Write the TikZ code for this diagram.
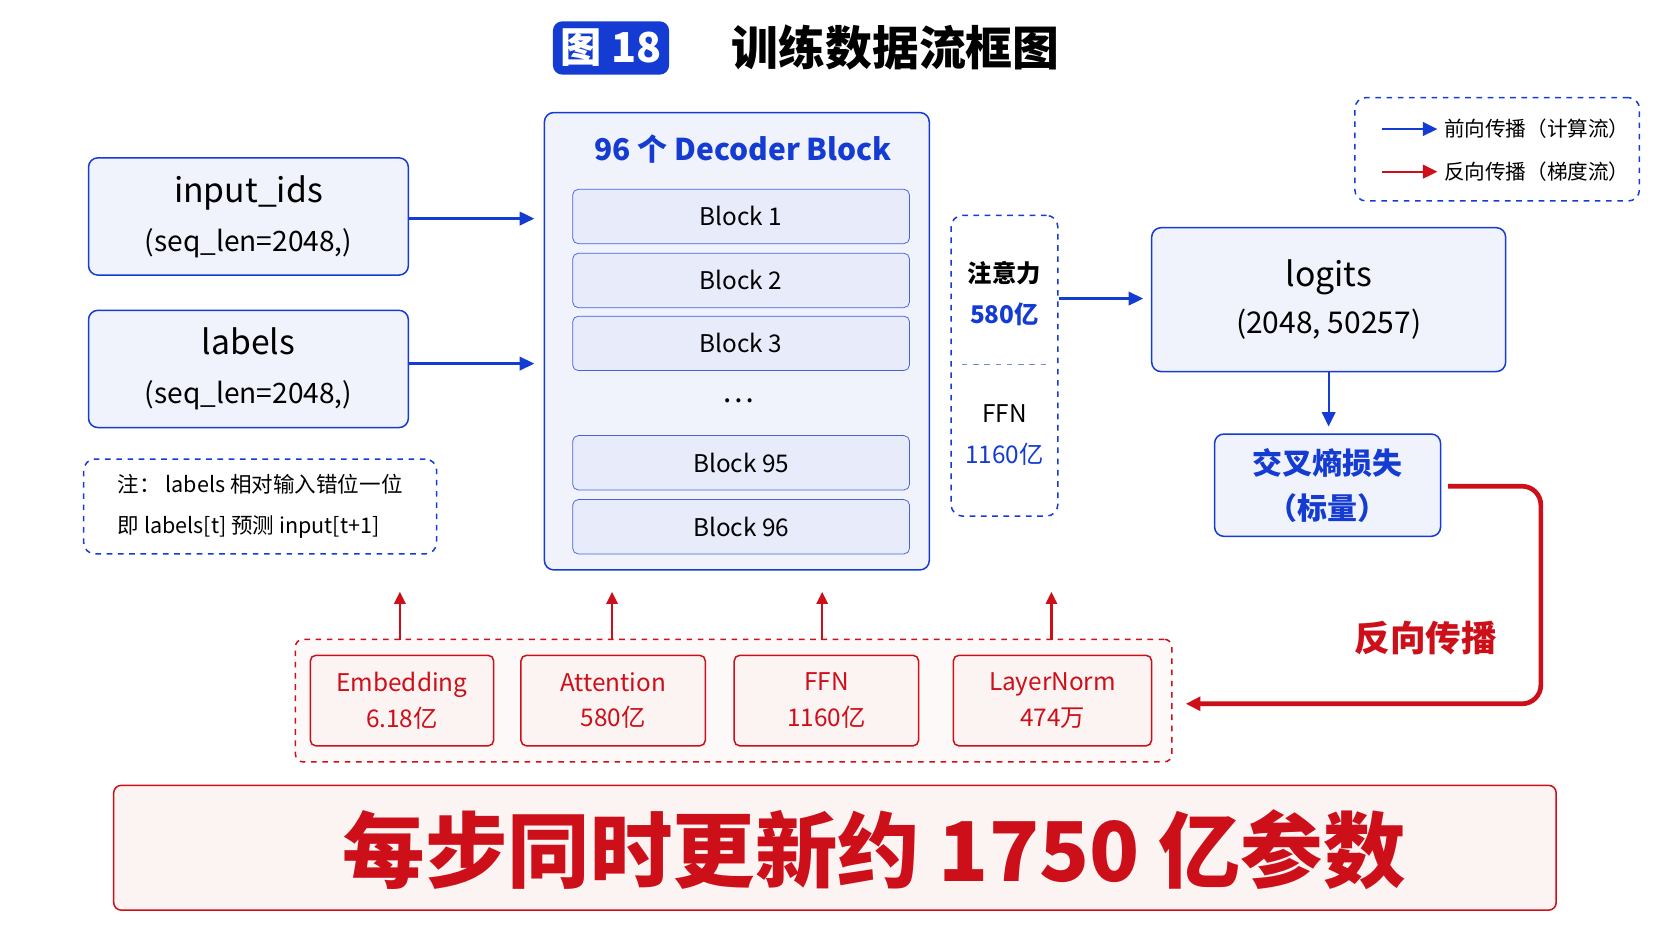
\documentclass[tikz,border=0pt]{standalone}
\usepackage{fontspec}
\setmainfont{Noto Sans CJK SC}
\usetikzlibrary{arrows.meta}
\definecolor{fwdblue}{RGB}{20,60,210}
\definecolor{bwdred}{RGB}{205,15,25}
\colorlet{boxfill}{fwdblue!6}
\colorlet{redfill}{bwdred!5}
\tikzset{
  bbox/.style={draw=fwdblue, thick, rounded corners=5pt, fill=boxfill, align=center},
  rbox/.style={draw=bwdred, thick, rounded corners=3pt, fill=redfill, align=center, text=bwdred, font=\fontsize{13}{19}\selectfont},
  blk/.style={draw=fwdblue!80, rounded corners=3pt, fill=fwdblue!10, minimum width=6.32cm, minimum height=1.02cm, font=\fontsize{13}{15}\selectfont},
  dbox/.style={draw=fwdblue, thick, dashed, rounded corners=6pt},
  fwd/.style={draw=fwdblue, very thick, -{Triangle[angle=50:3mm]}},
  bwd/.style={draw=bwdred, very thick, -{Triangle[angle=50:3mm]}}
}
\begin{document}
\begin{tikzpicture}[x=0.02cm, y=-0.02cm]
			\useasboundingbox (0,0) rectangle (1568,882);
			% title
			\node[fill=fwdblue, rounded corners=5pt, minimum width=2.18cm, minimum height=1cm, text=white, font=\fontsize{22}{24}\selectfont\bfseries] (badge) at (573,45) {图 18};
			\node[font=\fontsize{25}{28}\selectfont\bfseries] (title) at (840,45) {训练数据流框图};
			% inputs
			\node[bbox, minimum width=6cm, minimum height=2.2cm, font=\fontsize{18}{26}\selectfont] (ids) at (233,203) {input\_ids\\{\fontsize{15}{20}\selectfont (seq\_len=2048,)}};
			\node[bbox, minimum width=6cm, minimum height=2.2cm, font=\fontsize{18}{26}\selectfont] (lab) at (233,346) {labels\\{\fontsize{15}{20}\selectfont (seq\_len=2048,)}};
			\node[dbox, minimum width=6.62cm, minimum height=1.78cm, align=left, font=\fontsize{11.5}{22}\selectfont] (note) at (244,475) {注：\ labels 相对输入错位一位\\即 labels[t] 预测 input[t+1]};
			% decoder stack
			\node[bbox, minimum width=7.22cm, minimum height=8.58cm] (dec) at (691,320) {};
			\node[text=fwdblue, font=\fontsize{16}{18}\selectfont\bfseries] (dectitle) at (697,140) {96 个 Decoder Block};
			\node[blk] (b1) at (695,203) {Block 1};
			\node[blk] (b2) at (695,263) {Block 2};
			\node[blk] (b3) at (695,322) {Block 3};
			\node[font=\fontsize{16}{18}\selectfont] (dots) at (692,376) {\dots};
			\node[blk] (b95) at (695,434) {Block 95};
			\node[blk] (b96) at (695,494) {Block 96};
			\coordinate (in1) at (501,205);
			\coordinate (in2) at (501,341);
			\draw[fwd] (ids.east |- in1) -- (in1);
			\draw[fwd] (lab.east |- in2) -- (in2);
			% compute split
			\node[dbox, minimum width=2cm, minimum height=5.64cm] (split) at (942,343) {};
			\draw[fwdblue!60, dashed] (902,342) -- (982,342);
			\node[align=center, font=\fontsize{13}{22}\selectfont] (attn) at (942,275) {\textbf{注意力}\\\textcolor{fwdblue}{\textbf{580亿}}};
			\node[align=center, font=\fontsize{13}{22}\selectfont] (ffn) at (942,408) {FFN\\\textcolor{fwdblue}{1160亿}};
			% output
			\node[bbox, minimum width=6.64cm, minimum height=2.7cm, font=\fontsize{18}{25}\selectfont] (logits) at (1246,281) {logits\\{\fontsize{16}{22}\selectfont (2048,\ 50257)}};
			\node[bbox, minimum width=4.24cm, minimum height=1.92cm, text=fwdblue, font=\fontsize{16}{24}\selectfont\bfseries] (loss) at (1245,455) {交叉熵损失\\（标量）};
			\coordinate (lg) at (1072,280);
			\coordinate (ls) at (1246,400);
			\draw[fwd] (split.east |- lg) -- (lg);
			\draw[fwd] (logits.south) -- (ls);
			% legend
			\node[dbox, minimum width=5.34cm, minimum height=1.94cm] (legend) at (1404,140) {};
			\node[anchor=west, font=\fontsize{11}{13}\selectfont] (lf) at (1348,121) {前向传播（计算流）};
			\node[anchor=west, font=\fontsize{11}{13}\selectfont] (lb) at (1348,161) {反向传播（梯度流）};
			\draw[fwd] (1296,121) -- (lf.west);
			\draw[bwd] (1296,161) -- (lb.west);
			% gradients
			\node[draw=bwdred, thick, dashed, rounded corners=4pt, fill=redfill!50, minimum width=16.44cm, minimum height=2.3cm] (grad) at (688,657) {};
			\node[rbox, minimum width=3.44cm, minimum height=1.7cm] (ge) at (377,657) {Embedding\\6.18亿};
			\node[rbox, minimum width=3.46cm, minimum height=1.7cm] (ga) at (575,657) {Attention\\580亿};
			\node[rbox, minimum width=3.46cm, minimum height=1.7cm] (gf) at (775,657) {FFN\\1160亿};
			\node[rbox, minimum width=3.72cm, minimum height=1.7cm] (gl) at (987,657) {LayerNorm\\474万};
			\foreach \x in {375,574,771,986}
				\draw[bwd, -{Triangle[angle=50:2.5mm]}] (\x,600) -- (\x,555);
			\coordinate (back) at (1112,660);
			\draw[bwd, line width=2.5pt, rounded corners=10pt] (1358,456) -- (1445,456) -- (1445,660) -- (back);
			\node[text=bwdred, font=\fontsize{19}{22}\selectfont\bfseries] (bp) at (1337,598) {反向传播};
			% summary
			\node[draw=bwdred, thick, rounded corners=4pt, fill=redfill, minimum width=27.06cm, minimum height=2.34cm] (sum) at (783,795) {};
			\node[text=bwdred, font=\fontsize{44}{48}\selectfont\bfseries] (sumtext) at (820,797) {每步同时更新约 1750 亿参数};
		\end{tikzpicture}
\end{document}
